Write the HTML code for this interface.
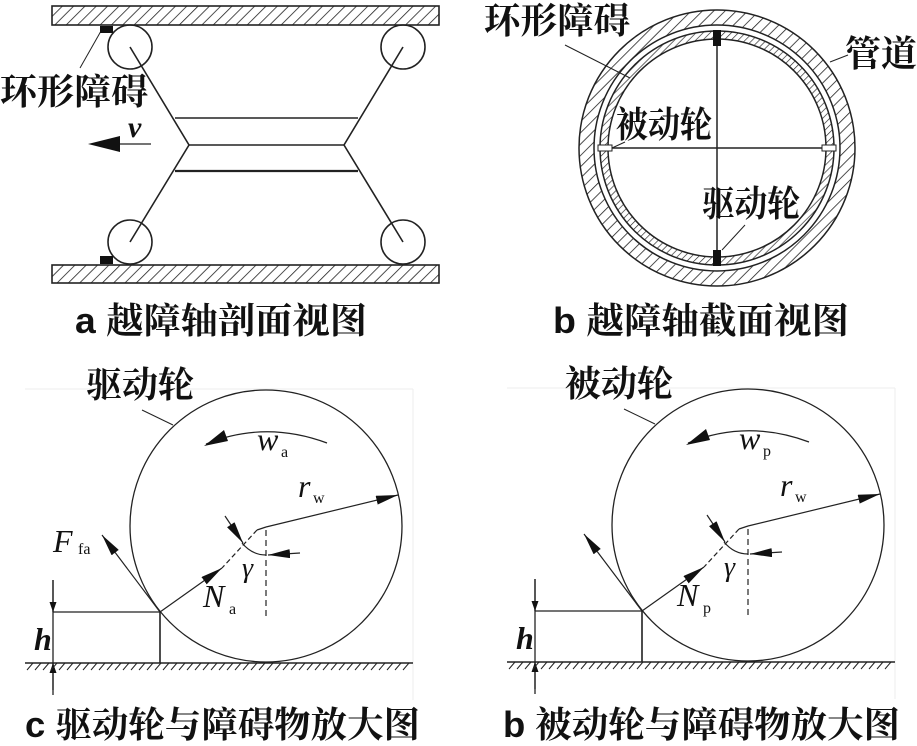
<!DOCTYPE html>
<html><head><meta charset="utf-8"><style>
html,body{margin:0;padding:0;background:#fff;}
svg{display:block}
.t{font-family:"Liberation Serif","Noto Serif CJK SC",serif;fill:#111}
.c{font-family:"Liberation Sans","Noto Serif CJK SC",serif;font-weight:bold;fill:#111}
.i{font-family:"Liberation Serif",serif;font-style:italic;fill:#111}
</style></head><body>
<svg width="917" height="746" viewBox="0 0 917 746" xmlns="http://www.w3.org/2000/svg">
<defs>
<pattern id="h" width="8" height="8" patternUnits="userSpaceOnUse" patternTransform="rotate(45)">
<rect width="8" height="8" fill="#fff"/><line x1="0" y1="0" x2="0" y2="8" stroke="#222" stroke-width="1.6"/></pattern>
<pattern id="h2" width="5" height="5" patternUnits="userSpaceOnUse" patternTransform="rotate(45)">
<rect width="5" height="5" fill="#fff"/><line x1="0" y1="0" x2="0" y2="5" stroke="#222" stroke-width="1.3"/></pattern>
<marker id="ar" viewBox="0 0 10 10" refX="10" refY="5" markerWidth="10" markerHeight="7" orient="auto" markerUnits="userSpaceOnUse" preserveAspectRatio="none"><path d="M0,0 L10,5 L0,10z" fill="#111"/></marker>
<marker id="al" viewBox="0 0 10 10" refX="10" refY="5" markerWidth="22" markerHeight="9" orient="auto" markerUnits="userSpaceOnUse" preserveAspectRatio="none"><path d="M0,0 L10,5 L0,10z" fill="#111"/></marker>
</defs>
<g stroke="#222" stroke-width="1.6" fill="none">
<rect x="52" y="6" width="387" height="19" fill="url(#h)"/>
<rect x="52" y="265" width="387" height="18" fill="url(#h)"/>
<circle cx="130" cy="47" r="22"/><circle cx="403" cy="47" r="22"/>
<circle cx="130" cy="242" r="22"/><circle cx="403" cy="242" r="22"/>
<polyline points="130,47 189,145 130,242"/>
<polyline points="403,47 344,145 403,242"/>
<line x1="175" y1="118" x2="358" y2="118"/>
<line x1="189" y1="145" x2="344" y2="145"/>
<line x1="175" y1="171" x2="358" y2="171" stroke-width="2.2"/>
<line x1="101" y1="31" x2="80" y2="68" stroke-width="1"/>
<line x1="120" y1="144" x2="151" y2="144" stroke-width="1.2"/>
</g>
<rect x="100" y="26" width="13" height="7" fill="#111"/>
<rect x="100" y="256" width="13" height="8" fill="#111"/>
<path d="M88,144 L120,136 L120,152z" fill="#111"/>
<text x="0" y="104" class="c" font-size="36" textLength="148" lengthAdjust="spacingAndGlyphs">环形障碍</text>
<text x="128" y="137" class="i" font-size="30" font-weight="bold">v</text>

<g stroke="#222" stroke-width="1.5">
<circle cx="717" cy="148" r="131" fill="none" stroke="url(#h)" stroke-width="15"/>
<circle cx="717" cy="148" r="138" fill="none"/>
<circle cx="717" cy="148" r="123" fill="none"/>
<circle cx="717" cy="148" r="113" fill="none" stroke="url(#h2)" stroke-width="8"/>
<circle cx="717" cy="148" r="117" fill="none"/>
<circle cx="717" cy="148" r="109" fill="none"/>
<line x1="717" y1="30" x2="717" y2="266"/>
<line x1="600" y1="148" x2="835" y2="148"/>
<line x1="565" y1="45" x2="630" y2="78" stroke-width="1"/>
<line x1="830" y1="62" x2="848" y2="55" stroke-width="1"/>
<line x1="722" y1="250" x2="745" y2="225" stroke-width="1"/>
<line x1="612" y1="148" x2="625" y2="142" stroke-width="1"/>
</g>
<rect x="713" y="30" width="8" height="16" fill="#111"/>
<rect x="713" y="250" width="8" height="16" fill="#111"/>
<rect x="598" y="145" width="14" height="6" fill="#fff" stroke="#222"/>
<rect x="822" y="145" width="14" height="6" fill="#fff" stroke="#222"/>
<text x="484" y="33" class="c" font-size="36" textLength="146" lengthAdjust="spacingAndGlyphs">环形障碍</text>
<text x="845" y="66" class="c" font-size="36" textLength="72" lengthAdjust="spacingAndGlyphs">管道</text>
<text x="616" y="137" class="c" font-size="36" textLength="96" lengthAdjust="spacingAndGlyphs">被动轮</text>
<text x="702" y="216" class="c" font-size="36" textLength="98" lengthAdjust="spacingAndGlyphs">驱动轮</text>

<text x="75" y="333" class="c" font-size="36" textLength="292" lengthAdjust="spacingAndGlyphs">a 越障轴剖面视图</text>
<text x="553" y="333" class="c" font-size="36" textLength="296" lengthAdjust="spacingAndGlyphs">b 越障轴截面视图</text>

<g id="pc">
<line x1="25" y1="389" x2="413" y2="389" stroke="#eee"/>
<line x1="413" y1="389" x2="413" y2="700" stroke="#eee"/>
<g stroke="#222" fill="none" stroke-width="1.3">
<circle cx="266" cy="526" r="136"/>
<line x1="25" y1="663" x2="413" y2="663" stroke-width="1.6"/>
<line x1="53" y1="612" x2="160" y2="612"/>
<line x1="160" y1="612" x2="160" y2="663" stroke-width="1.6"/>
<line x1="53" y1="580" x2="53" y2="690"/>
<line x1="142" y1="410" x2="173" y2="425" stroke-width="1"/>
<path d="M206,444 Q265,420 327,443" stroke-width="1.2"/>
<line x1="266" y1="527" x2="398" y2="495" stroke-width="1.2" marker-end="url(#al)"/>
<line x1="266" y1="527" x2="257" y2="530" stroke-width="1.2"/>
<line x1="257" y1="530" x2="222" y2="568" stroke-width="1.2" stroke-dasharray="5,3"/>
<line x1="160" y1="612" x2="222" y2="568" stroke-width="1.2" marker-end="url(#al)"/>
<line x1="160" y1="612" x2="102" y2="535" stroke-width="1.2" marker-end="url(#al)"/>
<line x1="266" y1="530" x2="266" y2="617" stroke-dasharray="6,4" stroke-width="1.2"/>
<path d="M242,543 Q252,555 266,555" stroke-width="1.2"/>
<line x1="300" y1="553" x2="268" y2="555" stroke-width="1.2" marker-end="url(#al)"/>
<line x1="225" y1="516" x2="243" y2="543" stroke-width="1.2" marker-end="url(#al)"/>
<line x1="53" y1="580" x2="53" y2="612" marker-end="url(#ar)"/>
<line x1="53" y1="695" x2="53" y2="663" marker-end="url(#ar)"/>
</g>
<path d="M204,446 L224,430 L228,441z" fill="#111"/>
<g stroke="#222" stroke-width="1">
<path d="M27,670 L33,663 M35,670 L41,663 M43,670 L49,663 M51,670 L57,663 M59,670 L65,663 M67,670 L73,663 M75,670 L81,663 M83,670 L89,663 M91,670 L97,663 M99,670 L105,663 M107,670 L113,663 M115,670 L121,663 M123,670 L129,663 M131,670 L137,663 M139,670 L145,663 M147,670 L153,663 M155,670 L161,663 M163,670 L169,663 M171,670 L177,663 M179,670 L185,663 M187,670 L193,663 M195,670 L201,663 M203,670 L209,663 M211,670 L217,663 M219,670 L225,663 M227,670 L233,663 M235,670 L241,663 M243,670 L249,663 M251,670 L257,663 M259,670 L265,663 M267,670 L273,663 M275,670 L281,663 M283,670 L289,663 M291,670 L297,663 M299,670 L305,663 M307,670 L313,663 M315,670 L321,663 M323,670 L329,663 M331,670 L337,663 M339,670 L345,663 M347,670 L353,663 M355,670 L361,663 M363,670 L369,663 M371,670 L377,663 M379,670 L385,663 M387,670 L393,663 M395,670 L401,663 M403,670 L409,663"/>
</g>
<text x="34" y="650" class="i" font-size="32" font-weight="bold">h</text>
<text x="298" y="497" class="i" font-size="32">r</text>
<text x="242" y="577" class="i" font-size="28">γ</text>
</g>
<text x="86" y="397" class="c" font-size="36" textLength="108" lengthAdjust="spacingAndGlyphs">驱动轮</text>
<text x="257" y="450" class="i" font-size="32">w</text><text x="281" y="457" class="t" font-size="16">a</text>
<text x="313" y="503" class="t" font-size="16">w</text>
<text x="53" y="552" class="i" font-size="32">F</text><text x="78" y="554" class="t" font-size="16">fa</text>
<text x="203" y="607" class="i" font-size="32">N</text><text x="229" y="614" class="t" font-size="16">a</text>
<text x="25" y="737" class="c" font-size="36" textLength="395" lengthAdjust="spacingAndGlyphs">c 驱动轮与障碍物放大图</text>

<use href="#pc" x="482" y="-1"/>
<text x="565" y="396" class="c" font-size="36" textLength="108" lengthAdjust="spacingAndGlyphs">被动轮</text>
<text x="739" y="449" class="i" font-size="32">w</text><text x="763" y="456" class="t" font-size="16">p</text>
<text x="795" y="502" class="t" font-size="16">w</text>
<text x="677" y="606" class="i" font-size="32">N</text><text x="703" y="613" class="t" font-size="16">p</text>
<text x="503" y="737" class="c" font-size="36" textLength="397" lengthAdjust="spacingAndGlyphs">b 被动轮与障碍物放大图</text>
</svg>
</body></html>
